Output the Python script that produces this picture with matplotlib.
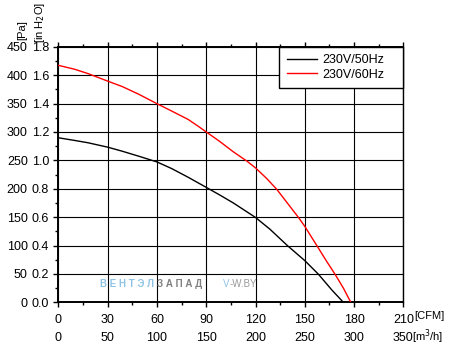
import matplotlib
matplotlib.use("Agg")
import matplotlib.pyplot as plt
from matplotlib.ticker import MultipleLocator

plt.rcParams["font.family"] = ["Liberation Sans", "DejaVu Sans"]

# fan curves: airflow [CFM] vs static pressure [in H2O]
cfm_50 = [0, 10, 18, 30, 39, 49, 60, 69, 79, 90, 98.4, 106.5, 120, 128.8, 139.4, 150, 158.3, 166.4, 173.5]
inh2o_50 = [1.159, 1.14, 1.124, 1.093, 1.064, 1.029, 0.989, 0.942, 0.881, 0.81, 0.755, 0.70,
            0.598, 0.515, 0.40, 0.294, 0.198, 0.088, 0.0]

cfm_60 = [0, 10, 18, 30, 39, 49, 60, 69, 79, 85, 90, 98, 106.5, 114.7, 120, 127, 133, 139, 146,
          150, 157.3, 163.4, 168.4, 173.5, 178]
inh2o_60 = [1.669, 1.641, 1.611, 1.558, 1.519, 1.465, 1.399, 1.347, 1.288, 1.241, 1.20, 1.135,
            1.06, 0.995, 0.947, 0.87, 0.795, 0.705, 0.60, 0.535, 0.40, 0.287, 0.198, 0.10, 0.0]

labels = ["230V/50Hz", "230V/60Hz"]
colors = ["black", "#ff0000"]

cfm_ticks = list(range(0, 211, 30))
m3h_ticks = [0, 50, 100, 150, 200, 250, 300, 350]
inh2o_ticks = [0.0, 0.2, 0.4, 0.6, 0.8, 1.0, 1.2, 1.4, 1.6, 1.8]
pa_ticks = list(range(0, 451, 50))

fig = plt.figure(figsize=(4.5, 3.47), dpi=100)
ax = fig.add_axes([0.1296, 0.1285, 0.7669, 0.7369])

ax.plot(cfm_50, inh2o_50, color=colors[0], lw=1.0, label=labels[0], zorder=3)
ax.plot(cfm_60, inh2o_60, color=colors[1], lw=1.0, label=labels[1], zorder=3)

ax.set_xlim(0, 210)
ax.set_ylim(0, 1.8)
ax.set_xticks(cfm_ticks)
ax.set_yticks(inh2o_ticks)
ax.set_yticklabels([f"{v:.1f}" for v in inh2o_ticks])
ax.xaxis.set_minor_locator(MultipleLocator(15))
ax.yaxis.set_minor_locator(MultipleLocator(0.1))
ax.grid(True, which="major", color="black", lw=0.8)

for s in ax.spines.values():
    s.set_linewidth(1.4)
ax.spines["right"].set_linewidth(1.0)

ax.tick_params(axis="both", which="major", direction="out", length=3.6, width=1.0,
               labelsize=9, pad=3)
ax.tick_params(axis="both", which="minor", direction="out", length=2.2, width=1.0)
ax.tick_params(axis="x", which="both", top=True, labeltop=False)
ax.tick_params(axis="x", which="major", pad=5)

# second scales: Pa on the left, m3/h at the bottom
sec_y = ax.secondary_yaxis("left")
sec_y.set_yticks(inh2o_ticks)
sec_y.set_yticklabels([str(v) for v in pa_ticks])
sec_y.spines["left"].set_visible(False)
sec_y.tick_params(length=0, labelsize=9, pad=22)
sec_y.yaxis.set_minor_locator(plt.NullLocator())

sec_x = ax.secondary_xaxis("bottom")
sec_x.set_xticks(cfm_ticks)
sec_x.set_xticklabels([str(v) for v in m3h_ticks])
sec_x.spines["bottom"].set_visible(False)
sec_x.tick_params(length=0, labelsize=9, pad=21)
sec_x.xaxis.set_minor_locator(plt.NullLocator())

# unit labels
fig.text(22 / 450, 1 - 30 / 347, "[Pa]", rotation=90, fontsize=8, ha="center", va="center")
fig.text(40 / 450, 1 - 22 / 347, "[in H$_2$O]", rotation=90, fontsize=8, ha="center", va="center")
fig.text(414 / 450, 1 - 316 / 347, "[CFM]", fontsize=8, ha="left", va="center")
fig.text(412 / 450, 1 - 337 / 347, "[m$^3$/h]", fontsize=8, ha="left", va="center")

# watermark
ax.text(25.4, 0.13, "В Е Н Т Э Л", color="#8ec3e6", fontsize=7, fontweight="bold",
        ha="left", va="center", zorder=2)
ax.text(60.0, 0.13, "З А П А Д", color="#808080", fontsize=7, fontweight="bold",
        ha="left", va="center", zorder=2)
ax.text(100.2, 0.13, "V", color="#8ec3e6", fontsize=7, ha="left", va="center", zorder=2)
ax.text(104.2, 0.13, "-W.BY", color="#9a9a9a", fontsize=7, ha="left", va="center", zorder=2)

leg = ax.legend(loc="upper left", bbox_to_anchor=(0.6404, 0.8373, 0.3596, 0.1627),
                mode="expand", borderaxespad=0, fontsize=9, frameon=True, fancybox=False,
                framealpha=1, edgecolor="black", borderpad=0.6, labelspacing=0.2,
                handlelength=2.45, handletextpad=0.4)
leg.get_frame().set_linewidth(1.0)
leg.set_zorder(5)

fig.savefig("out.png", dpi=100)
